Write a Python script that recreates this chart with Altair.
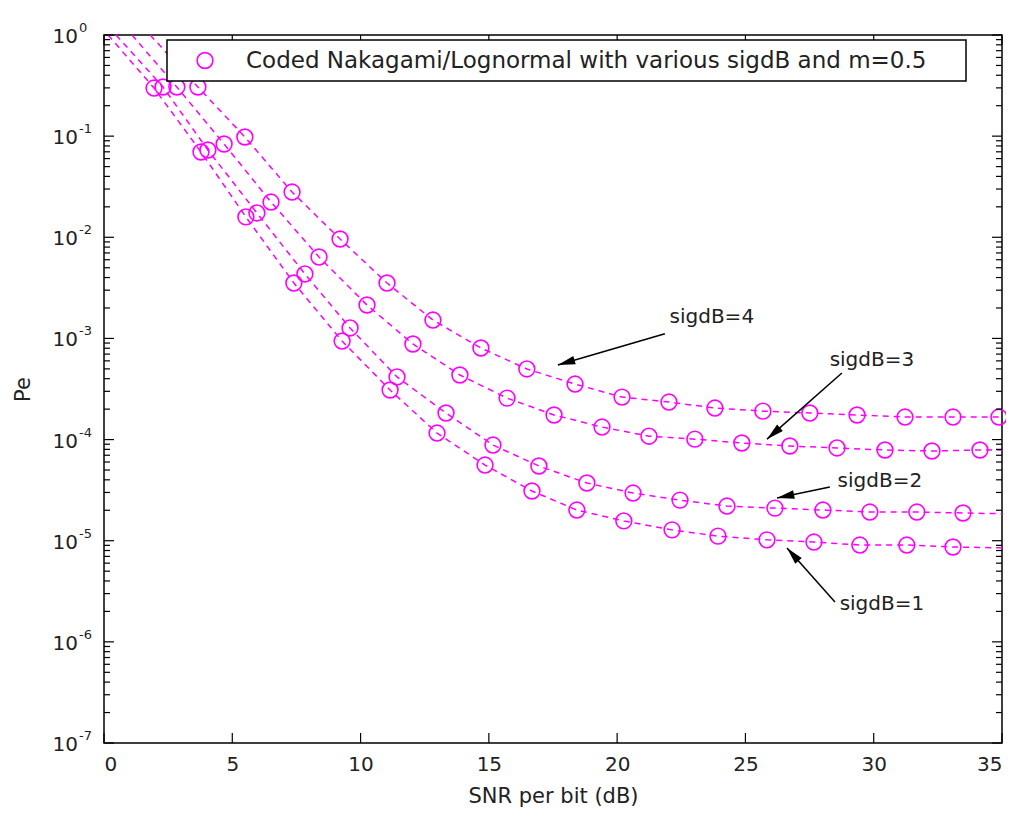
import math
import altair as alt
import pandas as pd

# ---------------- data ----------------
snr_s1 = [1.95, 3.78, 5.53, 7.40, 9.28, 11.15, 12.98, 14.85, 16.68, 18.43, 20.26, 22.14, 23.93, 25.84, 27.67, 29.46, 31.29, 33.09]
pe_s1 = [0.299, 0.0697, 0.0159, 3.53e-3, 9.42e-4, 3.09e-4, 1.16e-4, 5.60e-5, 3.10e-5, 2.01e-5, 1.57e-5, 1.28e-5, 1.11e-5, 1.02e-5, 9.7e-6, 9.06e-6, 9.06e-6, 8.67e-6]

snr_s2 = [2.30, 4.05, 5.96, 7.83, 9.59, 11.42, 13.33, 15.16, 16.95, 18.82, 20.62, 22.45, 24.28, 26.15, 28.02, 29.85, 31.68, 33.48]
pe_s2 = [0.306, 0.0729, 0.0174, 4.34e-3, 1.27e-3, 4.16e-4, 1.83e-4, 8.83e-5, 5.48e-5, 3.72e-5, 2.96e-5, 2.52e-5, 2.20e-5, 2.10e-5, 2.01e-5, 1.92e-5, 1.92e-5, 1.88e-5]

snr_s3 = [2.84, 4.68, 6.51, 8.38, 10.25, 12.04, 13.87, 15.71, 17.54, 19.41, 21.24, 23.03, 24.86, 26.73, 28.57, 30.44, 32.27, 34.14]
pe_s3 = [0.306, 0.0836, 0.0223, 6.38e-3, 2.14e-3, 8.81e-4, 4.35e-4, 2.57e-4, 1.75e-4, 1.33e-4, 1.08e-4, 1.01e-4, 9.25e-5, 8.64e-5, 8.26e-5, 7.89e-5, 7.71e-5, 7.89e-5]

snr_s4 = [3.66, 5.49, 7.33, 9.20, 11.03, 12.82, 14.69, 16.48, 18.36, 20.19, 22.02, 23.81, 25.68, 27.51, 29.35, 31.22, 33.09, 34.88]
pe_s4 = [0.306, 0.0981, 0.0280, 9.62e-3, 3.53e-3, 1.52e-3, 8.04e-4, 4.99e-4, 3.54e-4, 2.63e-4, 2.35e-4, 2.05e-4, 1.91e-4, 1.83e-4, 1.75e-4, 1.67e-4, 1.67e-4, 1.67e-4]

series_names = ["sigdB=1", "sigdB=2", "sigdB=3", "sigdB=4"]
# where each dashed line enters at the top (Pe = 1) and its value at the right edge (35 dB)
line_start_snr = [0.16, 0.47, 1.09, 1.80]
line_end_pe = [8.5e-6, 1.85e-5, 7.9e-5, 1.67e-4]

legend_label = "Coded Nakagami/Lognormal with various sigdB and m=0.5"
x_title = "SNR per bit (dB)"
y_title = "Pe"
x_tick_values = [0, 5, 10, 15, 20, 25, 30, 35]
y_decades = [0, -1, -2, -3, -4, -5, -6, -7]

ann_text = ["sigdB=4", "sigdB=3", "sigdB=2", "sigdB=1"]
ann_text_x = [23.69, 29.93, 30.24, 30.32]
ann_text_y = [1.63e-3, 6.12e-4, 3.89e-5, 2.37e-6]
arrow_tail_x = [21.86, 28.76, 28.29, 28.49]
arrow_tail_y = [1.11e-3, 4.55e-4, 3.40e-5, 2.48e-6]
arrow_tip_x = [17.69, 25.84, 26.23, 26.62]
arrow_tip_y = [5.46e-4, 1.01e-4, 2.64e-5, 8.47e-6]

# ---------------- layout ----------------
W, H = 898, 708
XMIN, XMAX = 0, 35
YMIN, YMAX = 1e-7, 1.0
MAG = "#FF00FF"
FONT = "DejaVu Sans"
TXT = "#222222"

# ---------------- tables ----------------
snrs = [snr_s1, snr_s2, snr_s3, snr_s4]
pes = [pe_s1, pe_s2, pe_s3, pe_s4]
pt_rows, ln_rows = [], []
for name, xs, ys, xs0, ye in zip(series_names, snrs, pes, line_start_snr, line_end_pe):
    ln_rows.append({"s": name, "x": xs0, "y": 1.0, "o": 0})
    for i, (a, b) in enumerate(zip(xs, ys)):
        pt_rows.append({"s": name, "x": a, "y": b})
        ln_rows.append({"s": name, "x": a, "y": b, "o": i + 1})
    ln_rows.append({"s": name, "x": 35.0, "y": ye, "o": len(xs) + 1})
pts = pd.DataFrame(pt_rows)
lns = pd.DataFrame(ln_rows)


def angle(tx, ty, hx, hy):
    dx = (hx - tx) * W / (XMAX - XMIN)
    dy = -(math.log10(hy) - math.log10(ty)) * H / 7.0
    return math.degrees(math.atan2(dx, -dy)) % 360


ann = pd.DataFrame({
    "t": ann_text, "tx": ann_text_x, "ty": ann_text_y,
    "x": arrow_tail_x, "y": arrow_tail_y, "x2": arrow_tip_x, "y2": arrow_tip_y,
})
ann["ang"] = [angle(a, b, c, d) for a, b, c, d in zip(arrow_tail_x, arrow_tail_y, arrow_tip_x, arrow_tip_y)]

major_y = pd.DataFrame({"y": [10.0 ** e for e in y_decades], "e": [str(e) for e in y_decades]})
minor_y = pd.DataFrame({"y": [k * 10.0 ** e for e in range(-7, 0) for k in range(2, 10)]})
major_x = pd.DataFrame({"x": x_tick_values})

xscale = alt.Scale(domain=[XMIN, XMAX], nice=False, zero=False)
yscale = alt.Scale(type="log", domain=[YMIN, YMAX], nice=False)

xaxis = alt.Axis(values=x_tick_values, ticks=False, domain=False, grid=False,
                 labelFontSize=20, labelPadding=11, labelColor=TXT,
                 labelFont=FONT, title=x_title, titleFont=FONT,
                 titleFontSize=21, titleFontWeight="normal", titlePadding=11,
                 titleColor=TXT)
yaxis = alt.Axis(labels=False, ticks=False, domain=False, grid=False,
                 title=y_title, titleFont=FONT, titleFontSize=21,
                 titleFontWeight="normal", titlePadding=71, titleColor=TXT)


def XE(f="x"):
    return alt.X(f"{f}:Q", scale=xscale, axis=xaxis, title=x_title)


def YE(f="y"):
    return alt.Y(f"{f}:Q", scale=yscale, axis=yaxis, title=y_title)


lines = alt.Chart(lns).mark_line(color=MAG, strokeWidth=1.5, strokeDash=[6, 5]).encode(
    x=XE(), y=YE(), detail="s:N", order="o:Q")
points = alt.Chart(pts).mark_point(shape="circle", filled=False, color=MAG,
                                    size=250, strokeWidth=1.6, opacity=1).encode(x=XE(), y=YE())

shafts = alt.Chart(ann).mark_rule(color="black", strokeWidth=1.5).encode(
    x=XE(), y=YE(), x2="x2:Q", y2="y2:Q")
heads = alt.Chart(ann).mark_point(shape="M0,0L-0.5,2L0.5,2Z", filled=True, color="black",
                                   size=300, opacity=1).encode(
    x=XE("x2"), y=YE("y2"), angle=alt.Angle("ang:Q", scale=None))
labels = alt.Chart(ann).mark_text(font=FONT, fontSize=20, color=TXT, align="center",
                                   baseline="middle").encode(
    x=XE("tx"), y=YE("ty"), text="t:N")

# inward MATLAB-style ticks on all four sides
tk = dict(color="black", strokeWidth=1.2)
ty_l = alt.Chart(major_y).mark_rule(**tk).encode(y=YE(), x=alt.value(0), x2=alt.value(10))
ty_r = alt.Chart(major_y).mark_rule(**tk).encode(y=YE(), x=alt.value(W), x2=alt.value(W - 10))
tmy_l = alt.Chart(minor_y).mark_rule(**tk).encode(y=YE(), x=alt.value(0), x2=alt.value(6))
tmy_r = alt.Chart(minor_y).mark_rule(**tk).encode(y=YE(), x=alt.value(W), x2=alt.value(W - 6))
tx_b = alt.Chart(major_x).mark_rule(**tk).encode(x=XE(), y=alt.value(H), y2=alt.value(H - 10))
tx_t = alt.Chart(major_x).mark_rule(**tk).encode(x=XE(), y=alt.value(0), y2=alt.value(10))

# y tick labels as 10 with a raised exponent
ylab10 = alt.Chart(major_y).mark_text(font=FONT, fontSize=20, color=TXT, align="right",
                                      baseline="middle", dy=2).encode(
    y=YE(), x=alt.value(-26), text=alt.value("10"))
ylabexp = alt.Chart(major_y).mark_text(font=FONT, fontSize=13, color=TXT, align="left",
                                       baseline="middle", dy=-7).encode(
    y=YE(), x=alt.value(-25), text="e:N")

# legend box
one = pd.DataFrame({"t": [legend_label]})
leg_box = alt.Chart(one).mark_rect(fill="white", stroke="black", strokeWidth=1.5).encode(
    x=alt.value(63), x2=alt.value(862), y=alt.value(5), y2=alt.value(46))
leg_sym = alt.Chart(one).mark_point(shape="circle", filled=False, color=MAG, size=250,
                                    strokeWidth=1.6, opacity=1).encode(
    x=alt.value(101), y=alt.value(25.5))
leg_txt = alt.Chart(one).mark_text(font=FONT, fontSize=23, color=TXT, align="left",
                                   baseline="middle").encode(
    x=alt.value(142), y=alt.value(26), text="t:N")

chart = alt.layer(
    lines, points, shafts, heads, labels,
    ty_l, ty_r, tmy_l, tmy_r, tx_b, tx_t, ylab10, ylabexp,
    leg_box, leg_sym, leg_txt,
).properties(
    width=W, height=H,
    autosize=alt.AutoSizeParams(type="none"),
    padding={"left": 96, "top": 27, "right": 4, "bottom": 66},
    background="white",
).configure_view(stroke="black", strokeWidth=1.5)

chart.save("out.html", embed_options={"renderer": "svg", "actions": False})
